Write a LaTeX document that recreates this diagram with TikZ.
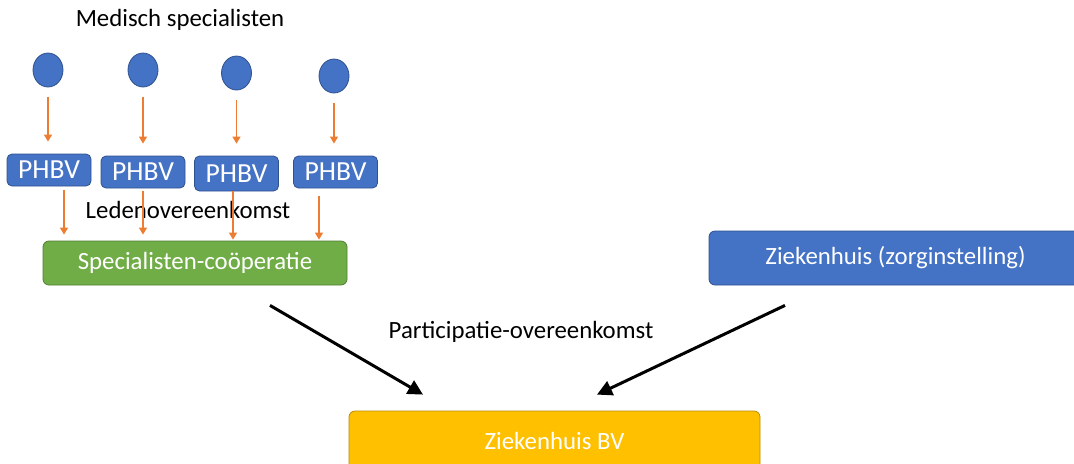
\documentclass[tikz,border=0pt]{standalone}
\usepackage{fontspec}
\setmainfont{Carlito}
\usetikzlibrary{arrows.meta,positioning,shapes.geometric,calc}

\definecolor{officeblue}{HTML}{4472C4}
\definecolor{officeblueline}{HTML}{2F528F}
\definecolor{officegreen}{HTML}{70AD47}
\definecolor{officegreenline}{HTML}{507E32}
\definecolor{officegold}{HTML}{FFC000}
\definecolor{officegoldline}{HTML}{BC8C00}
\definecolor{officeorange}{HTML}{ED7D31}

\tikzset{
    specialist/.style={ellipse, fill=officeblue, draw=officeblueline, line width=0.4pt,
        inner sep=0pt, minimum width=15pt, minimum height=17pt},
    phbvbox/.style={rectangle, rounded corners=2.5pt, fill=officeblue, draw=officeblueline,
        line width=0.4pt, text=white, inner sep=0pt, minimum width=42pt, minimum height=16pt,
        font=\fontsize{13.8}{15}\selectfont},
    orgbox/.style={rectangle, rounded corners=3pt, draw, line width=0.4pt, text=white, inner sep=0pt},
    smallarrow/.style={draw=officeorange, line width=0.6pt,
        -{Triangle[length=3.5pt,width=4pt]}, fill=officeorange},
    bigarrow/.style={draw=black, line width=1.5pt, -{Triangle[length=7.5pt,width=7.5pt]}},
    label/.style={text=black}
}

\begin{document}
\begin{tikzpicture}[x=0.5pt,y=-0.5pt,font=\fontsize{12.4}{14}\selectfont]
    \useasboundingbox (0,0) rectangle (1074,463);
    \clip (0,0) rectangle (1074,463);

    % specialists
    \node[label] (title) at (180,20) {Medisch specialisten};
    \node[specialist] (c1) at (48,70) {};
    \node[specialist] (c2) at (143,70) {};
    \node[specialist] (c3) at (236.5,73) {};
    \node[specialist] (c4) at (334,76) {};

    % personal holdings
    \node[phbvbox] (p1) at (49,170) {PHBV};
    \node[phbvbox] (p2) at (143,172) {PHBV};
    \node[phbvbox, minimum height=17.5pt] (p3) at (236.5,173.5) {PHBV};
    \node[phbvbox] (p4) at (335.5,172) {PHBV};

    \foreach \i in {1,...,4}
        \draw[smallarrow, shorten <=5pt, shorten >=6pt] (c\i.south) -- (c\i.south |- p\i.north);

    % cooperative
    \node[label] (leden) at (188,210) {Ledenovereenkomst};
    \node[orgbox, fill=officegreen, draw=officegreenline, minimum width=152pt, minimum height=22pt]
        (coop) at (195,263) {Specialisten-coöperatie};

    \draw[smallarrow, shorten <=2pt, shorten >=3pt] ([xshift=7.5pt]p1.south) -- ([xshift=7.5pt]p1.south |- coop.north);
    \draw[smallarrow, shorten <=1.5pt, shorten >=3pt] (p2.south) -- (p2.south |- coop.north);
    \draw[smallarrow, shorten <=0pt, shorten >=0.5pt] ([xshift=-1.75pt]p3.south) -- ([xshift=-1.75pt]p3.south |- coop.north);
    \draw[smallarrow, shorten <=4pt, shorten >=0.5pt] ([xshift=-8.25pt]p4.south) -- ([xshift=-8.25pt]p4.south |- coop.north);

    % hospital side
    \node[orgbox, fill=officeblue, draw=officeblueline, minimum width=186.5pt, minimum height=27pt]
        (zh) at (895.5,258) {Ziekenhuis (zorginstelling)};
    \node[orgbox, fill=officegold, draw=officegoldline, minimum width=205.5pt, minimum height=30pt]
        (bv) at (554.5,441) {Ziekenhuis BV};

    \node[label] (part) at (521,332) {Participatie-overeenkomst};

    \draw[bigarrow] ([shift={(37.5pt,-10pt)}]coop.south) -- ([shift={(-65.75pt,8pt)}]bv.north);
    \draw[bigarrow] ([shift={(-55.25pt,-10pt)}]zh.south) -- ([shift={(21.25pt,8pt)}]bv.north);
\end{tikzpicture}
\end{document}
